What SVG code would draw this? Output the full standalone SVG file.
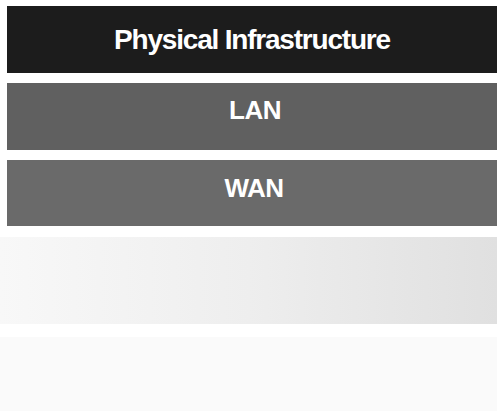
<svg xmlns="http://www.w3.org/2000/svg" width="497" height="411" viewBox="0 0 497 411">
  <style>
    .lbl { font-family: "Liberation Sans", Arial, sans-serif; font-weight: bold; fill: #ffffff; text-anchor: middle; }
  </style>
  <defs>
    <linearGradient id="fade" x1="0" y1="0" x2="1" y2="0">
      <stop offset="0" stop-color="#f8f8f8"/>
      <stop offset="0.5" stop-color="#eeeeee"/>
      <stop offset="1" stop-color="#e0e0e0"/>
    </linearGradient>
  </defs>
  <rect width="497" height="411" fill="#ffffff"/>
  <g id="physical">
    <rect x="7" y="6" width="490" height="67" fill="#1c1c1c"/>
    <text class="lbl" x="252" y="49" font-size="28" letter-spacing="-1.2">Physical Infrastructure</text>
  </g>
  <g id="lan">
    <rect x="7" y="83" width="490" height="67" fill="#606060"/>
    <text class="lbl" x="255" y="119" font-size="26" letter-spacing="-0.5">LAN</text>
  </g>
  <g id="wan">
    <rect x="7" y="160" width="490" height="66" fill="#6a6a6a"/>
    <text class="lbl" x="254" y="197" font-size="26" letter-spacing="-0.5">WAN</text>
  </g>
  <g id="layer4">
    <rect x="0" y="237" width="497" height="87" fill="url(#fade)"/>
  </g>
  <g id="layer5">
    <rect x="0" y="337" width="497" height="74" fill="#fafafa"/>
  </g>
</svg>
